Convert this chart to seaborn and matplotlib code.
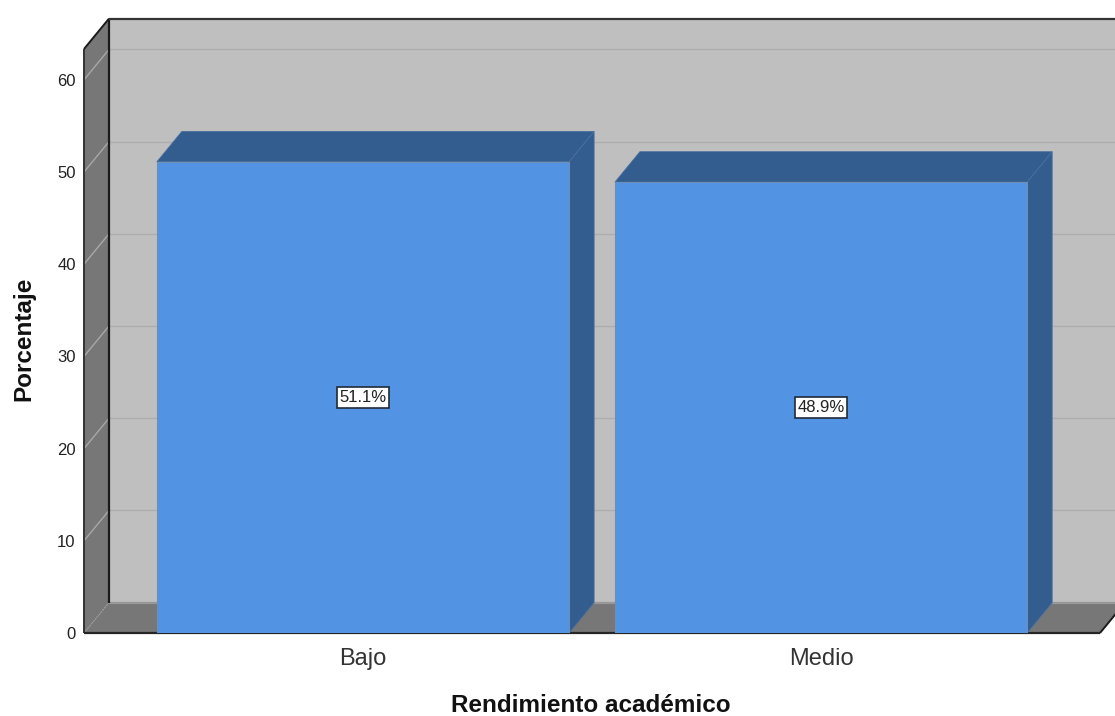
import matplotlib
matplotlib.use("Agg")
import matplotlib.pyplot as plt
from matplotlib.patches import Polygon
import pandas as pd
import seaborn as sns

categories = ["Bajo", "Medio"]
percentages = [51.1, 48.9]
labels = ["51.1%", "48.9%"]
y_ticks = [0, 10, 20, 30, 40, 50, 60]

FRONT = "#5294E3"
DARK = "#335C8F"
WALL = "#BFBFBF"
SIDE = "#777777"
GRID = "#ADADAD"

# depth of the fake 3D box, in data units
DX = 0.0546
DY = 3.3
X_MIN, X_MAX = -0.609, 1.609
Y_MAX = 63.34

sns.set_theme(style="white")
plt.rcParams["font.family"] = ["Liberation Sans", "DejaVu Sans"]

df = pd.DataFrame({"rendimiento": categories, "porcentaje": percentages})

fig = plt.figure(figsize=(11.15, 7.16), dpi=100)
ax = fig.add_axes([84 / 1115, 83 / 716, 1016 / 1115, 584 / 716])
ax.patch.set_visible(False)


def face(points, color, z, edge="none", lw=0.0):
    ax.add_patch(Polygon(points, closed=True, facecolor=color, edgecolor=edge,
                         linewidth=lw, zorder=z, clip_on=False))


def line(xs, ys, color, lw, z, ls="-"):
    ax.plot(xs, ys, color=color, linewidth=lw, zorder=z, linestyle=ls,
            clip_on=False, solid_capstyle="butt")


sns.barplot(data=df, x="rendimiento", y="porcentaje", color=FRONT, width=0.9,
            saturation=1, edgecolor="#6E8FB5", linewidth=0.8, zorder=6, ax=ax)

# back wall, floor, left wall
back_right = X_MAX + 2 * DX
face([(X_MIN + DX, DY), (back_right, DY), (back_right, Y_MAX + DY),
      (X_MIN + DX, Y_MAX + DY)], WALL, 1)
face([(X_MIN, 0), (X_MAX, 0), (X_MAX + DX, DY), (X_MIN + DX, DY)], SIDE, 1)
face([(X_MIN, 0), (X_MIN + DX, DY), (X_MIN + DX, Y_MAX + DY), (X_MIN, Y_MAX)], SIDE, 1)

for tick in y_ticks[1:]:
    line([X_MIN, X_MIN + DX], [tick, tick + DY], "#A8A8A8", 1.0, 2)
    line([X_MIN + DX, back_right], [tick + DY, tick + DY], GRID, 1.0, 2)

line([X_MIN + DX, back_right], [DY, DY], "#989898", 1.6, 2)
line([X_MIN, X_MIN + DX], [0, DY], "#A0A0A0", 0.8, 2, ls=":")
line([X_MIN + DX, X_MIN + DX], [DY, Y_MAX + DY], "#1A1A1A", 1.6, 3)
line([X_MIN, X_MIN], [0, Y_MAX], "#333333", 1.4, 3)
line([X_MIN, X_MIN + DX], [Y_MAX, Y_MAX + DY], "#1A1A1A", 1.4, 3)
line([X_MIN + DX, back_right], [Y_MAX + DY, Y_MAX + DY], "#333333", 1.6, 3)
line([X_MAX, X_MAX + DX], [0, DY], "#1A1A1A", 1.4, 3)
line([X_MIN, X_MAX], [0, 0], "#262626", 1.6, 3)

# top and side faces from the bars seaborn drew
for bar, label in zip(list(ax.patches)[:len(categories)], labels):
    left = bar.get_x()
    right = left + bar.get_width()
    top = bar.get_height()
    face([(left, top), (right, top), (right + DX, top + DY), (left + DX, top + DY)],
         DARK, 5, edge="#4A6F9E", lw=0.6)
    face([(right, 0), (right + DX, DY), (right + DX, top + DY), (right, top)],
         DARK, 5, edge="#4A6F9E", lw=0.6)
    ax.text(left + bar.get_width() / 2, top / 2, label, ha="center", va="center",
            fontsize=12, color="#222222", zorder=8,
            bbox=dict(boxstyle="square,pad=0.16", facecolor="white",
                      edgecolor="#1F2A38", linewidth=1.2))

ax.set_xlim(X_MIN, X_MAX)
ax.set_ylim(0, Y_MAX)
ax.set_yticks(y_ticks)
ax.tick_params(axis="y", length=0, pad=6, labelsize=12, labelcolor="#222222")
ax.tick_params(axis="x", length=0, pad=10.5, labelsize=17, labelcolor="#333333")
ax.set_xlabel("Rendimiento académico", fontsize=17.5, fontweight="bold", color="#111111")
ax.set_ylabel("Porcentaje", fontsize=17.5, fontweight="bold", color="#111111")
ax.xaxis.set_label_coords(0.499, -0.124, transform=ax.transAxes)
ax.yaxis.set_label_coords(-0.059, 0.503, transform=ax.transAxes)
ax.xaxis.label.set_va("center")
ax.yaxis.label.set_va("center")
sns.despine(ax=ax, left=True, bottom=True)

fig.savefig("out.png", dpi=100)
plt.close(fig)
